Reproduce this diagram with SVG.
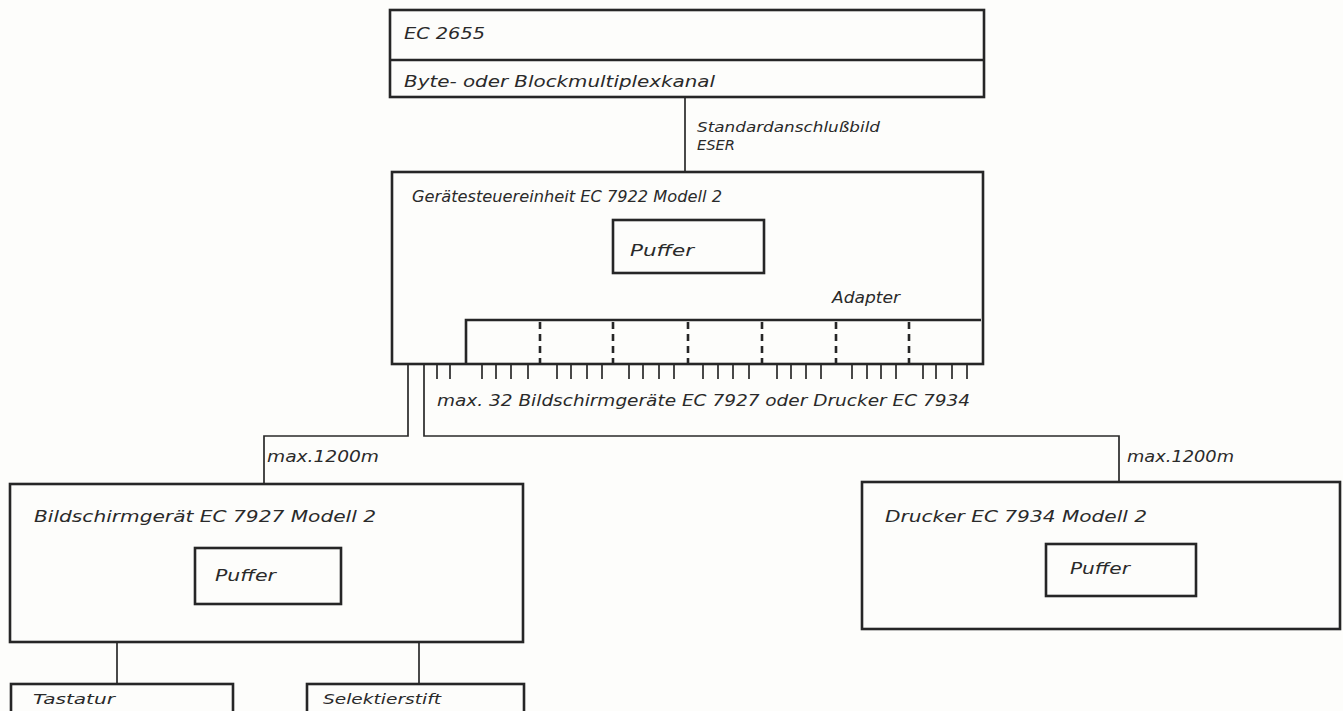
<svg xmlns="http://www.w3.org/2000/svg" width="1343" height="711" viewBox="0 0 1343 711">
<style>
.box{fill:none;stroke:#262626;stroke-width:2.6}
.inner{fill:none;stroke:#262626;stroke-width:2.6}
.ln{fill:none;stroke:#2a2a2a;stroke-width:1.7}
.dash{fill:none;stroke:#262626;stroke-width:2.6;stroke-dasharray:7,5}
.tk{fill:none;stroke:#2a2a2a;stroke-width:1.7}
text{font-family:"DejaVu Sans","Liberation Sans",sans-serif;font-style:italic;font-size:16px;fill:#2a2a2a}
.sm{font-size:14px}
</style>
<rect width="1343" height="711" fill="#fdfdfb"/>
<g id="connectors">
<line class="ln" x1="685" y1="97" x2="685" y2="172"/>
<polyline class="ln" points="408,364 408,436 264,436 264,484"/>
<polyline class="ln" points="424,364 424,436 1119,436 1119,482"/>
<line class="ln" x1="117" y1="642" x2="117" y2="684"/>
<line class="ln" x1="419" y1="642" x2="419" y2="684"/>
<text class="sm" x="697" y="132" textLength="183" lengthAdjust="spacingAndGlyphs">Standardanschlußbild</text>
<text class="sm" x="697" y="150" textLength="38" lengthAdjust="spacingAndGlyphs">ESER</text>
<text x="267" y="462" textLength="112" lengthAdjust="spacingAndGlyphs">max.1200m</text>
<text x="1127" y="462" textLength="107" lengthAdjust="spacingAndGlyphs">max.1200m</text>
</g>
<g id="ec2655">
<rect class="box" x="390" y="10" width="594" height="87"/>
<line class="box" x1="390" y1="60" x2="984" y2="60"/>
<text x="404" y="39" textLength="81" lengthAdjust="spacingAndGlyphs">EC 2655</text>
<text x="404" y="87" textLength="311" lengthAdjust="spacingAndGlyphs">Byte- oder Blockmultiplexkanal</text>
</g>
<g id="ec7922">
<rect class="box" x="392" y="172" width="591" height="192"/>
<text x="412" y="202" textLength="310" lengthAdjust="spacingAndGlyphs">Gerätesteuereinheit  EC 7922  Modell 2</text>
<rect class="inner" x="613" y="220" width="151" height="53"/>
<text x="630" y="256" textLength="64" lengthAdjust="spacingAndGlyphs">Puffer</text>
<text x="832" y="303" textLength="68" lengthAdjust="spacingAndGlyphs">Adapter</text>
<polyline class="box" points="466,364 466,320 981,320"/>
<line class="dash" x1="540" y1="322" x2="540" y2="364"/>
<line class="dash" x1="613" y1="322" x2="613" y2="364"/>
<line class="dash" x1="688" y1="322" x2="688" y2="364"/>
<line class="dash" x1="762" y1="322" x2="762" y2="364"/>
<line class="dash" x1="836" y1="322" x2="836" y2="364"/>
<line class="dash" x1="909" y1="322" x2="909" y2="364"/>
<path class="tk" d="M437 365v14M450 365v14M482 365v14M496 365v14M511 365v14M528 365v14M557 365v14M571 365v14M587 365v14M602 365v14M629 365v14M643 365v14M659 365v14M674 365v14M703 365v14M718 365v14M733 365v14M749 365v14M777 365v14M791 365v14M806 365v14M821 365v14M852 365v14M867 365v14M881 365v14M896 365v14M923 365v14M936 365v14M952 365v14M967 365v14"/>
<text x="437" y="406" textLength="533" lengthAdjust="spacingAndGlyphs">max. 32 Bildschirmgeräte  EC 7927 oder Drucker EC 7934</text>
</g>
<g id="ec7927">
<rect class="box" x="10" y="484" width="513" height="158"/>
<text x="34" y="522" textLength="342" lengthAdjust="spacingAndGlyphs">Bildschirmgerät  EC  7927  Modell 2</text>
<rect class="inner" x="195" y="548" width="146" height="56"/>
<text x="215" y="581" textLength="61" lengthAdjust="spacingAndGlyphs">Puffer</text>
</g>
<g id="ec7934">
<rect class="box" x="862" y="482" width="478" height="147"/>
<text x="885" y="522" textLength="262" lengthAdjust="spacingAndGlyphs">Drucker  EC 7934   Modell  2</text>
<rect class="inner" x="1046" y="544" width="150" height="52"/>
<text x="1070" y="574" textLength="60" lengthAdjust="spacingAndGlyphs">Puffer</text>
</g>
<g id="tastatur">
<rect class="box" x="11" y="684" width="222" height="40"/>
<text class="sm" x="33" y="704" textLength="82" lengthAdjust="spacingAndGlyphs">Tastatur</text>
</g>
<g id="selektierstift">
<rect class="box" x="307" y="684" width="217" height="40"/>
<text class="sm" x="323" y="704" textLength="118" lengthAdjust="spacingAndGlyphs">Selektierstift</text>
</g>
</svg>
